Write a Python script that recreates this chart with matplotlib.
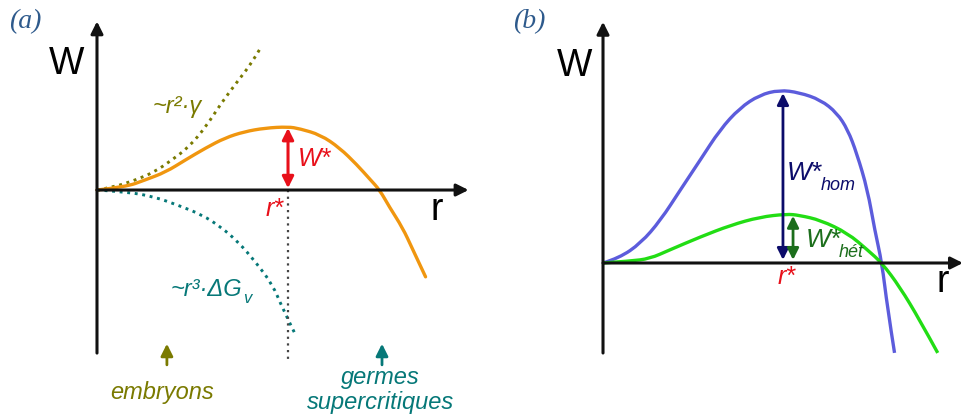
import matplotlib
matplotlib.use("Agg")
from matplotlib import pyplot as plt
from matplotlib.path import Path
from matplotlib.patches import PathPatch

plt.rcParams['font.family'] = ['Liberation Sans', 'DejaVu Sans']

# (a) r in units of r*, W in units of W*
r_tot = [0, 0.15, 0.25, 0.36, 0.46, 0.57, 0.67, 0.77, 0.88, 1.0, 1.06,
         1.17, 1.27, 1.36, 1.43, 1.48, 1.53, 1.60, 1.65, 1.72]
w_tot = [0, 0.05, 0.16, 0.29, 0.48, 0.68, 0.84, 0.94, 1.0, 1.02, 0.99,
         0.89, 0.68, 0.41, 0.17, 0, -0.27, -0.61, -0.94, -1.40]
r_surf = [0, 0.09, 0.20, 0.30, 0.39, 0.48, 0.57, 0.65, 0.74, 0.81, 0.85]
w_surf = [0, 0.05, 0.16, 0.29, 0.48, 0.69, 1.02, 1.40, 1.77, 2.05, 2.26]
r_vol = [0, 0.16, 0.30, 0.42, 0.55, 0.65, 0.74, 0.83, 0.92, 0.97, 1.04]
w_vol = [0, -0.03, -0.11, -0.24, -0.40, -0.60, -0.84, -1.16, -1.53, -1.90, -2.34]
r_star_a = 1.0
w_star_a = 1.0

# (b) homogeneous vs heterogeneous
r_hom = [0, 0.09, 0.21, 0.32, 0.43, 0.54, 0.65, 0.76, 0.87, 0.98, 1.09,
         1.21, 1.30, 1.36, 1.41, 1.47, 1.51, 1.55, 1.58, 1.62]
w_hom = [0, 0.08, 0.32, 0.69, 1.18, 1.66, 2.15, 2.50, 2.71, 2.79, 2.75,
         2.63, 2.42, 2.15, 1.77, 1.18, 0.53, 0, -0.71, -1.45]
r_het = [0, 0.15, 0.26, 0.37, 0.54, 0.71, 0.87, 1.02, 1.09, 1.21, 1.36,
         1.47, 1.55, 1.65, 1.76, 1.86]
w_het = [0, 0.03, 0.07, 0.21, 0.42, 0.61, 0.74, 0.79, 0.77, 0.69, 0.48,
         0.21, 0, -0.39, -0.92, -1.45]
r_star_hom = 1.0
w_star_hom = 2.74
r_star_het = 1.056
w_star_het = 0.76

ORANGE = '#f0960f'
OLIVE = '#7a7a00'
TEAL = '#067878'
RED = '#e8101a'
BLUE = '#5c5cdc'
GREEN = '#22dd14'
NAVY = '#0c0c6a'
DKGREEN = '#1c6e1c'
LBL = '#2e5a8c'

W, H = 964, 417
fig = plt.figure(figsize=(W / 100, H / 100), dpi=100)

axa = fig.add_axes([50 / W, 0, 430 / W, 1])
axa.set_xlim(-0.246, 2.005)
axa.set_ylim(-3.661, 3.065)
axb = fig.add_axes([560 / W, 0, 404 / W, 1])
axb.set_xlim(-0.239, 2.006)
axb.set_ylim(-2.484, 4.242)
for ax in (axa, axb):
    ax.axis('off')


def arrow(ax, x0, y0, x1, y1, style='-|>', color='black', lw=2.2, ms=18):
    ax.annotate('', xy=(x1, y1), xytext=(x0, y0),
                arrowprops=dict(arrowstyle=style, color=color, lw=lw,
                                mutation_scale=ms, shrinkA=0, shrinkB=0),
                annotation_clip=False)


def smooth(ax, xs, ys, **kw):
    # quadratic bezier through the read points, so the curve is not jagged
    pts = list(zip(xs, ys))
    verts = [pts[0]]
    codes = [Path.MOVETO]
    for i in range(1, len(pts) - 1):
        mid = ((pts[i][0] + pts[i + 1][0]) / 2, (pts[i][1] + pts[i + 1][1]) / 2)
        verts += [pts[i], mid]
        codes += [Path.CURVE3, Path.CURVE3]
    verts[-1] = pts[-1]
    ax.add_patch(PathPatch(Path(verts, codes), fill=False, **kw))


# ---- panel (a)
arrow(axa, 0, -2.63, 0, 2.72, color='#111111')
arrow(axa, 0, 0, 1.945, 0, color='#111111')
axa.plot([r_star_a, r_star_a], [0, -2.77], color='#444444', lw=1.6,
         linestyle=(0, (1, 2)))
smooth(axa, r_surf, w_surf, edgecolor=OLIVE, lw=2.1, linestyle=(0, (1, 1.6)))
smooth(axa, r_vol, w_vol, edgecolor=TEAL, lw=2.1, linestyle=(0, (1, 1.6)))
smooth(axa, r_tot, w_tot, edgecolor=ORANGE, lw=2.4, capstyle='round')
arrow(axa, r_star_a, 0.03, r_star_a, w_star_a, style='<|-|>',
      color=RED, lw=2.2, ms=17)

axa.text(-0.157, 2.03, 'W', fontsize=27, ha='center', va='center')
axa.text(1.78, -0.32, 'r', fontsize=27, ha='center', va='center')
axa.text(1.05, 0.5, 'W*', fontsize=18, color=RED, style='italic',
         ha='left', va='center')
axa.text(0.975, -0.3, 'r*', fontsize=18, color=RED, style='italic',
         ha='right', va='center')
axa.text(0.42, 1.34, '~r²·γ', fontsize=17, color=OLIVE, style='italic',
         ha='center', va='center')
axa.text(0.76, -1.61, '~r³·ΔG', fontsize=17, color=TEAL, style='italic',
         ha='right', va='center')
axa.text(0.765, -1.75, 'v', fontsize=12, color=TEAL, style='italic',
         ha='left', va='center')

arrow(axa, 0.366, -2.82, 0.366, -2.48, color=OLIVE, lw=2, ms=18)
arrow(axa, 1.492, -2.82, 1.492, -2.48, color=TEAL, lw=2, ms=18)
axa.text(0.34, -3.26, 'embryons', fontsize=17, color=OLIVE, style='italic',
         ha='center', va='center')
axa.text(1.485, -3.03, 'germes', fontsize=17, color=TEAL, style='italic',
         ha='center', va='center')
axa.text(1.485, -3.42, 'supercritiques', fontsize=17, color=TEAL,
         style='italic', ha='center', va='center')

# ---- panel (b)
arrow(axb, 0, -1.452, 0, 3.89, color='#111111')
arrow(axb, 0, 0, 2.0, 0, color='#111111')
smooth(axb, r_hom, w_hom, edgecolor=BLUE, lw=2.4)
smooth(axb, r_het, w_het, edgecolor=GREEN, lw=2.4)
arrow(axb, r_star_hom, 0.05, r_star_hom, w_star_hom, style='<|-|>',
      color=NAVY, lw=2, ms=17)
arrow(axb, r_star_het, 0.05, r_star_het, w_star_het, style='<|-|>',
      color=DKGREEN, lw=2, ms=17)

axb.text(-0.161, 3.18, 'W', fontsize=27, ha='center', va='center')
axb.text(1.89, -0.31, 'r', fontsize=27, ha='center', va='center')
axb.text(1.02, -0.22, 'r*', fontsize=18, color=RED, style='italic',
         ha='center', va='center')
axb.text(1.02, 1.34, 'W*', fontsize=19, color=NAVY, style='italic',
         ha='left', va='baseline')
axb.text(1.21, 1.17, 'hom', fontsize=13, color=NAVY, style='italic',
         ha='left', va='baseline')
axb.text(1.125, 0.26, 'W*', fontsize=19, color=DKGREEN, style='italic',
         ha='left', va='baseline')
axb.text(1.31, 0.10, 'hét', fontsize=13, color=DKGREEN, style='italic',
         ha='left', va='baseline')

fig.text(25 / W, 1 - 22 / H, '(a)', fontsize=20, color=LBL,
         family='Liberation Serif', style='italic', ha='center', va='center')
fig.text(529 / W, 1 - 22 / H, '(b)', fontsize=20, color=LBL,
         family='Liberation Serif', style='italic', ha='center', va='center')

fig.savefig('out.png', dpi=100)
